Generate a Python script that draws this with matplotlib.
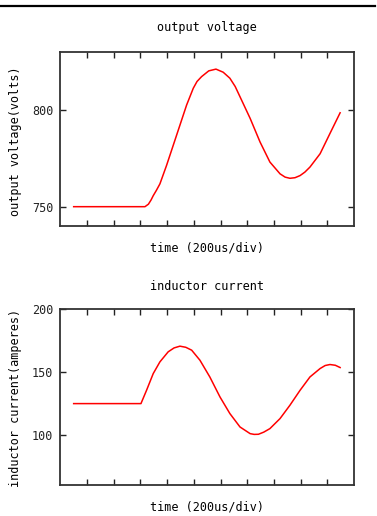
import matplotlib.pyplot as plt
from matplotlib.lines import Line2D

# time in microseconds (200 us per division)
t_v = [100, 634, 660, 680, 696, 720, 746, 796, 846, 896, 946, 996, 1024, 1058,
       1112, 1166, 1220, 1270, 1310, 1346, 1422, 1496, 1570, 1646, 1684, 1720,
       1758, 1796, 1832, 1870, 1946, 2020, 2096]
volts = [750, 750, 751.3, 753.5, 755.7, 758.5, 761.8, 771.4, 781.8, 792.2,
         802.6, 811.3, 814.8, 817.3, 820.3, 821.2, 819.6, 816.5, 812.2, 806.9,
         795.7, 783.5, 773.1, 767.0, 765.3, 764.7, 765.0, 766.1, 767.9, 770.5,
         777.4, 787.9, 798.6]

t_i = [100, 604, 646, 696, 746, 808, 852, 896, 940, 984, 1046, 1120, 1196,
       1270, 1346, 1422, 1452, 1484, 1524, 1570, 1646, 1720, 1796, 1870, 1946,
       1984, 2020, 2060, 2096]
amps = [125, 125, 135.6, 148.9, 158.2, 166.2, 169.3, 170.7, 169.8, 167.5,
        159.5, 146.2, 130.3, 117.1, 106.4, 101.1, 100.5, 100.6, 102.3, 105.1,
        113.1, 123.7, 135.6, 146.2, 152.9, 155.3, 156.1, 155.5, 153.7]

xticks = [200, 400, 600, 800, 1000, 1200, 1400, 1600, 1800, 2000]

plt.rcParams['font.family'] = 'DejaVu Sans Mono'
fig = plt.figure(figsize=(3.77, 5.16), dpi=100)

def panel(rect, t, y, ylim, yticks, ylabel, title, title_y, xlabel_y, ylabel_y):
    ax = fig.add_axes(rect)
    ax.plot(t, y, color='red', lw=1.1)
    ax.set_xlim(0, 2200)
    ax.set_ylim(*ylim)
    ax.set_xticks(xticks)
    ax.set_xticklabels([])
    ax.set_yticks(yticks)
    ax.tick_params(direction='in', length=4, width=1, top=True, right=True,
                   labelsize=8.5, pad=5, colors='#222222')
    for s in ax.spines.values():
        s.set_linewidth(1.3)
        s.set_color('#333333')
    fig.text(0.549, title_y, title, ha='center', va='center', fontsize=8.5)
    fig.text(0.549, xlabel_y, 'time (200us/div)', ha='center', va='center', fontsize=8.5)
    fig.text(0.042, ylabel_y, ylabel, ha='center', va='center', rotation=90, fontsize=8.5)
    return ax

panel([0.160, 0.562, 0.779, 0.337], t_v, volts, (740, 830), [750, 800],
      'output voltage(volts)', 'output voltage', 1 - 28 / 516, 1 - 248 / 516, 1 - 141 / 516)
panel([0.160, 0.0595, 0.779, 0.341], t_i, amps, (60, 200), [100, 150, 200],
      'inductor current(amperes)', 'inductor current', 1 - 286 / 516, 1 - 507 / 516, 1 - 398 / 516)

fig.add_artist(Line2D([0, 0.995], [1 - 6 / 516, 1 - 6 / 516], color='black', lw=1.6))

fig.savefig('out.png', dpi=100)
